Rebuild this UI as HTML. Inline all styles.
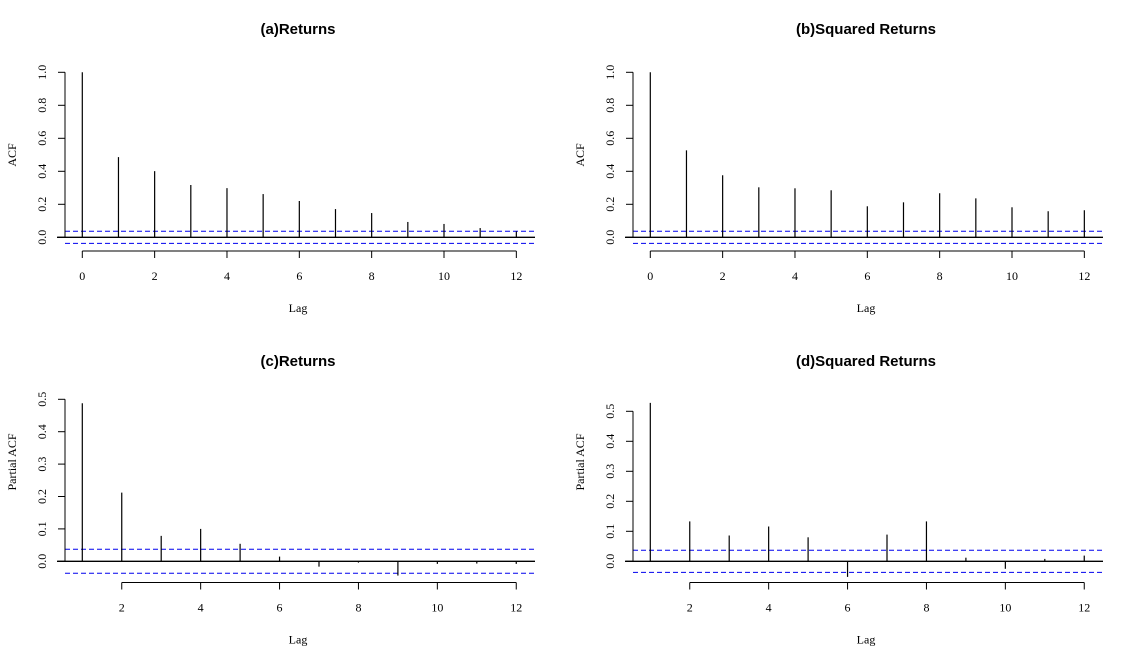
<!DOCTYPE html>
<html><head><meta charset="utf-8"><style>
body{margin:0;background:#fff}
svg{display:block}
text{font-family:"Liberation Serif",serif;font-size:12px;fill:#000}
.t{font-family:"Liberation Sans",sans-serif;font-weight:bold;font-size:15px}
</style></head><body>
<svg id="c" width="1135" height="664"></svg>
<script>
const acfLags=[0,1,2,3,4,5,6,7,8,9,10,11,12];
const pacfLags=[1,2,3,4,5,6,7,8,9,10,11,12];
const acfReturns=[1,0.486,0.401,0.317,0.298,0.262,0.22,0.171,0.147,0.093,0.081,0.056,0.036];
const acfSquared=[1,0.527,0.376,0.303,0.297,0.285,0.188,0.212,0.267,0.236,0.182,0.158,0.164];
const pacfReturns=[0.488,0.212,0.0785,0.100,0.054,0.0145,-0.0165,-0.004,-0.044,-0.008,-0.007,-0.008];
const pacfSquared=[0.528,0.133,0.086,0.116,0.080,-0.052,0.089,0.133,0.012,-0.025,0.008,0.019];
const confBand=[0.037,-0.037];
const acfTicksY=["0.0","0.2","0.4","0.6","0.8","1.0"];
const pacfTicksY=["0.0","0.1","0.2","0.3","0.4","0.5"];
const acfTicksX=[0,2,4,6,8,10,12];
const pacfTicksX=[2,4,6,8,10,12];
const titles=["(a)Returns","(b)Squared Returns","(c)Returns","(d)Squared Returns"];

const svg=document.getElementById('c');
const NS='http://www.w3.org/2000/svg';
function mk(tag,attrs,parent,txt){const e=document.createElementNS(NS,tag);for(const k in attrs)e.setAttribute(k,attrs[k]);if(txt!==undefined)e.textContent=txt;parent.appendChild(e);return e;}

function panel(cfg){
  const g=mk('g',{},svg);
  
  
  const dx=cfg.dx;
  const xs=l=>dx+cfg.x0+(l-cfg.l0)*cfg.xstep;
  const ys=v=>cfg.zeroY-v*cfg.yscale;
  const t=mk('text',{x:dx+298,y:cfg.titleY,'text-anchor':'middle',class:'t'},g,cfg.title);
  
  
  // zero line
  const z=mk('line',{x1:dx+57,x2:dx+535,y1:ys(0),y2:ys(0),stroke:'#000','stroke-width':1.3},g);
  
  
  confBand.forEach(c=>{
    const d=mk('line',{x1:dx+65,x2:dx+535,y1:ys(c),y2:ys(c),stroke:'#0000ee','stroke-width':1,'stroke-dasharray':'5,3'},g);
    
    
  });
  cfg.lags.forEach((l,i)=>{
    const b=mk('line',{x1:xs(l),x2:xs(l),y1:ys(0),y2:ys(cfg.vals[i]),stroke:'#000','stroke-width':1.2},g);
    
    
  });
  // y axis
  const ya=mk('g',{},g);
  
  
  const top=ys((cfg.yTicks.length-1)*cfg.yStep);
  mk('line',{x1:dx+65,x2:dx+65,y1:ys(0),y2:top,stroke:'#000'},ya);
  cfg.yTicks.forEach((lab,i)=>{
    const y=ys(i*cfg.yStep);
    mk('line',{x1:dx+58,x2:dx+65,y1:y,y2:y,stroke:'#000'},ya);
    mk('text',{x:dx+46,y:y,'text-anchor':'middle',transform:`rotate(-90 ${dx+46} ${y})`},ya,lab);
  });
  const yl=mk('text',{x:dx+16,y:cfg.yLabelY,'text-anchor':'middle',transform:`rotate(-90 ${dx+16} ${cfg.yLabelY})`},g,cfg.yLabel);
  
  
  // x axis
  const xa=mk('g',{},g);
  
  
  const ax=cfg.axisY;
  mk('line',{x1:xs(cfg.xTicks[0]),x2:xs(cfg.xTicks[cfg.xTicks.length-1]),y1:ax,y2:ax,stroke:'#000'},xa);
  cfg.xTicks.forEach(l=>{
    mk('line',{x1:xs(l),x2:xs(l),y1:ax,y2:ax+7,stroke:'#000'},xa);
    mk('text',{x:xs(l),y:ax+29,'text-anchor':'middle'},xa,l);
  });
  const xl=mk('text',{x:dx+298,y:ax+61,'text-anchor':'middle'},g,'Lag');
  
  
}
const acfBase={x0:82.3,l0:0,xstep:36.17,zeroY:237.3,yscale:165,yStep:0.2,yTicks:acfTicksY,xTicks:acfTicksX,lags:acfLags,axisY:251,titleY:34,yLabel:'ACF',yLabelY:155};
const pacfBase={x0:82.3,l0:1,xstep:39.45,zeroY:561.3,yStep:0.1,yTicks:pacfTicksY,xTicks:pacfTicksX,lags:pacfLags,axisY:582.5,titleY:366,yLabel:'Partial ACF',yLabelY:462};
panel(Object.assign({},acfBase,{name:'panel-a-acf-returns',dx:0,vals:acfReturns,title:titles[0]}));
panel(Object.assign({},acfBase,{name:'panel-b-acf-squared',dx:568,vals:acfSquared,title:titles[1]}));
panel(Object.assign({},pacfBase,{name:'panel-c-pacf-returns',dx:0,vals:pacfReturns,yscale:324,title:titles[2]}));
panel(Object.assign({},pacfBase,{name:'panel-d-pacf-squared',dx:568,vals:pacfSquared,yscale:300,title:titles[3]}));
</script>
</body></html>
